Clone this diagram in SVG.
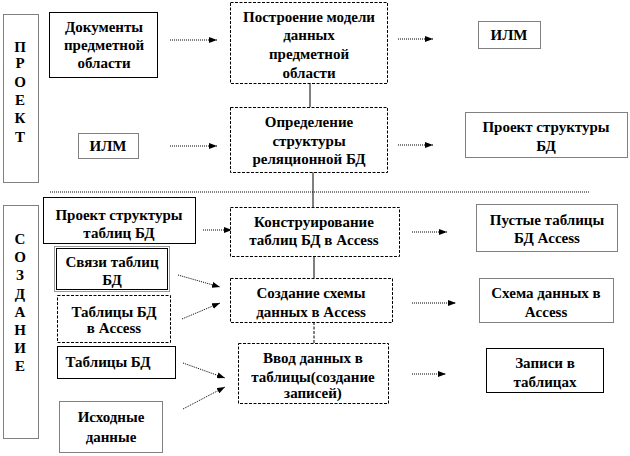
<svg xmlns="http://www.w3.org/2000/svg" width="630" height="456" viewBox="0 0 630 456">
<defs>
<marker id="ah" viewBox="0 0 8 6" refX="8" refY="3" markerWidth="8" markerHeight="6" markerUnits="userSpaceOnUse" orient="auto">
<path d="M0,0 L8,3 L0,6 Z" fill="#000"/>
</marker>
</defs>
<style>
text{font-family:'Liberation Serif','DejaVu Serif',serif;font-weight:bold;font-size:15px;text-anchor:middle;fill:#000}
.b{fill:#fff;stroke:#000;stroke-width:1}
.dash{stroke-dasharray:3,1.5}
.dot{stroke-dasharray:1,1}
.c{fill:none;stroke:#000;stroke-width:1}
.a{fill:none;stroke:#000;stroke-width:1;stroke-dasharray:1,1;marker-end:url(#ah)}
.sep{fill:none;stroke:#000;stroke-width:1;stroke-dasharray:1,1}
</style>
<rect width="630" height="456" fill="#fff"/>

<g id="connectors">
<line class="c" x1="310" y1="83" x2="310" y2="107"/>
<line class="c" x1="313" y1="172" x2="313" y2="207"/>
<line class="sep" x1="50" y1="192" x2="590" y2="192"/>
<line class="c" x1="314" y1="256" x2="314" y2="278"/>
<line class="c dash" x1="314" y1="322" x2="314" y2="343"/>
<line class="a" x1="170" y1="40" x2="217" y2="40"/>
<line class="a" x1="170" y1="146" x2="217" y2="146"/>
<line class="a" x1="398" y1="39" x2="433" y2="39"/>
<line class="a" x1="398" y1="145" x2="433" y2="145"/>
<line class="a" x1="203" y1="230" x2="232" y2="230"/>
<line class="a" x1="412" y1="232" x2="447" y2="232"/>
<line class="a" x1="412" y1="303" x2="456" y2="303"/>
<line class="a" x1="412" y1="374" x2="446" y2="374"/>
<line class="a" x1="178" y1="275" x2="220" y2="287"/>
<line class="a" x1="182" y1="319" x2="220" y2="303"/>
<line class="a" x1="183" y1="363" x2="225" y2="378"/>
<line class="a" x1="183" y1="409" x2="225" y2="387"/>
</g>

<g id="proekt">
<rect class="b dot" x="3.5" y="14.5" width="35" height="168"/>
<text x="20" y="52">П</text>
<text x="20" y="68">Р</text>
<text x="20" y="87">О</text>
<text x="20" y="105">Е</text>
<text x="20" y="123">К</text>
<text x="20" y="142">Т</text>
</g>

<g id="sozdanie">
<rect class="b dot" x="3.5" y="205.5" width="35" height="233"/>
<text x="20" y="244">С</text>
<text x="20" y="262">О</text>
<text x="20" y="280">З</text>
<text x="20" y="299">Д</text>
<text x="20" y="317">А</text>
<text x="20" y="335">Н</text>
<text x="20" y="353">И</text>
<text x="20" y="371">Е</text>
</g>

<g id="docs">
<rect class="b" x="49.5" y="12.5" width="108" height="65"/>
<text x="104" y="32">Документы</text>
<text x="104" y="50">предметной</text>
<text x="104" y="68">области</text>
</g>

<g id="model">
<rect class="b dash" x="230.5" y="2.5" width="157" height="81"/>
<text x="309" y="22">Построение модели</text>
<text x="309" y="40">данных</text>
<text x="309" y="59">предметной</text>
<text x="309" y="78">области</text>
</g>

<g id="ilm-out">
<rect class="b dot" x="478.5" y="21.5" width="62" height="27"/>
<text x="509" y="40">ИЛМ</text>
</g>

<g id="ilm-in">
<rect class="b dot" x="78.5" y="133.5" width="60" height="25"/>
<text x="108" y="151">ИЛМ</text>
</g>

<g id="struct">
<rect class="b dash" x="230.5" y="107.5" width="157" height="65"/>
<text x="309" y="127">Определение</text>
<text x="309" y="146">структуры</text>
<text x="309" y="164">реляционной БД</text>
</g>

<g id="proj-db">
<rect class="b dot" x="465.5" y="112.5" width="162" height="45"/>
<text x="546" y="132">Проект структуры</text>
<text x="546" y="151">БД</text>
</g>

<g id="proj-tables">
<rect class="b" x="43.5" y="197.5" width="152" height="46"/>
<text x="119" y="220">Проект структуры</text>
<text x="119" y="238">таблиц БД</text>
</g>

<g id="construct">
<rect class="b dash" x="230.5" y="207.5" width="169" height="49"/>
<text x="314" y="227">Конструирование</text>
<text x="314" y="245">таблиц БД в Access</text>
</g>

<g id="empty-tables">
<rect class="b dot" x="476.5" y="204.5" width="141" height="47"/>
<text x="547" y="225">Пустые таблицы</text>
<text x="547" y="243">БД Access</text>
</g>

<g id="links">
<rect x="54.5" y="246.5" width="115" height="45" fill="none" stroke="#999" stroke-width="1"/>
<rect class="b" x="56.5" y="248.5" width="111" height="41"/>
<text x="112" y="267">Связи таблиц</text>
<text x="112" y="285">БД</text>
</g>

<g id="tables-access">
<rect class="b dash" x="57.5" y="295.5" width="113" height="47"/>
<text x="114" y="317">Таблицы БД</text>
<text x="114" y="333">в Access</text>
</g>

<g id="schema">
<rect class="b dash" x="230.5" y="278.5" width="162" height="44"/>
<text x="311" y="298">Создание схемы</text>
<text x="311" y="317">данных в Access</text>
</g>

<g id="schema-out">
<rect class="b dot" x="479.5" y="278.5" width="134" height="44"/>
<text x="546" y="298">Схема данных в</text>
<text x="546" y="317">Access</text>
</g>

<g id="tables-db">
<rect class="b" x="57.5" y="346.5" width="118" height="32"/>
<text x="108" y="367">Таблицы БД</text>
</g>

<g id="source">
<rect class="b dot" x="59.5" y="401.5" width="103" height="51"/>
<text x="111" y="422">Исходные</text>
<text x="111" y="442">данные</text>
</g>

<g id="input">
<rect class="b dash" x="238.5" y="343.5" width="150" height="60"/>
<text x="313" y="363">Ввод данных в</text>
<text x="313" y="382">таблицы(создание</text>
<text x="313" y="398">записей)</text>
</g>

<g id="records">
<rect class="b" x="486.5" y="348.5" width="117" height="44"/>
<text x="545" y="368">Записи в</text>
<text x="545" y="387">таблицах</text>
</g>
</svg>
